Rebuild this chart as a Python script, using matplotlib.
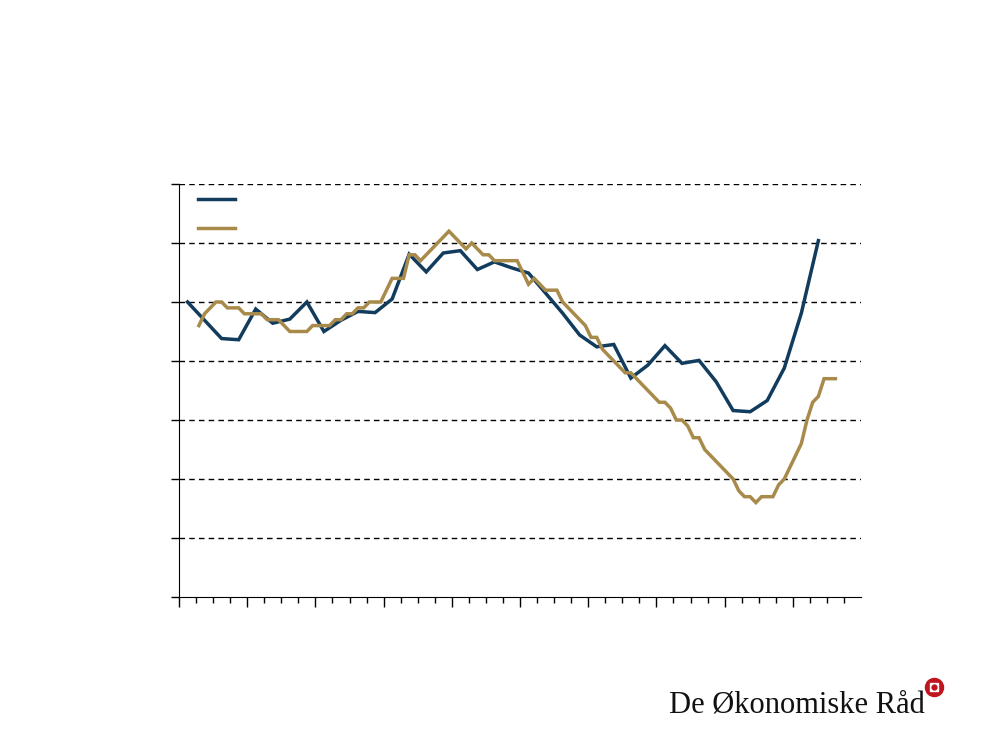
import matplotlib
matplotlib.use("Agg")
import matplotlib.pyplot as plt
import numpy as np
from matplotlib.lines import Line2D

# ---- data ----
# Blue series: quarterly, plotted at middle month of each quarter (month index 1, 4, 7, ...)
blue_values = [5.00, 4.69, 4.38, 4.36, 4.88, 4.64, 4.71, 5.00, 4.50, 4.69,
               4.84, 4.82, 5.05, 5.81, 5.51, 5.83, 5.87, 5.55, 5.68, 5.58,
               5.49, 5.15, 4.81, 4.44, 4.24, 4.28, 3.71, 3.93, 4.26, 3.96,
               4.01, 3.65, 3.16, 3.14, 3.33, 3.88, 4.81, 6.04]
# Gold series: monthly, starting at month index 3
gold_start = 3
gold_values = [4.6, 4.8, 4.9, 5.0, 5.0, 4.9, 4.9, 4.9, 4.8, 4.8,   # m3-12
               4.8, 4.8, 4.7, 4.7, 4.7, 4.6, 4.5, 4.5, 4.5, 4.5,   # m13-22
               4.6, 4.6, 4.6, 4.6, 4.7, 4.7, 4.8, 4.8, 4.9, 4.9,   # m23-32
               5.0, 5.0, 5.0, 5.2, 5.4, 5.4, 5.4, 5.8, 5.8, 5.7,   # m33-42
               5.8, 5.9, 6.0, 6.1, 6.2, 6.1, 6.0, 5.9, 6.0, 5.9,   # m43-52
               5.8, 5.8, 5.7, 5.7, 5.7, 5.7, 5.7, 5.5, 5.3, 5.4,   # m53-62
               5.3, 5.2, 5.2, 5.2, 5.0, 4.9, 4.8, 4.7, 4.6, 4.4,   # m63-72
               4.4, 4.2, 4.1, 4.0, 3.9, 3.8, 3.8, 3.7, 3.6, 3.5,   # m73-82
               3.4, 3.3, 3.3, 3.2, 3.0, 3.0, 2.9, 2.7, 2.7, 2.5,   # m83-92
               2.4, 2.3, 2.2, 2.1, 2.0, 1.8, 1.7, 1.7, 1.6, 1.7,   # m93-102
               1.7, 1.7, 1.9, 2.0, 2.2, 2.4, 2.6, 3.0, 3.3, 3.4,   # m103-112
               3.7, 3.7, 3.7]                                      # m113-115
n_months = 120
y_ticks = [0, 1, 2, 3, 4, 5, 6, 7]

BLUE = "#123C5E"
GOLD = "#A88B4B"

fig = plt.figure(figsize=(10, 7.5), dpi=100)
ax = fig.add_axes([0.179, 0.204, 0.682, 0.5507])

bx = np.arange(len(blue_values)) * 3 + 1 + 0.5
gx = np.arange(len(gold_values)) + gold_start + 0.5
l1, = ax.plot(bx, blue_values, color=BLUE, lw=2.5, solid_joinstyle="miter", zorder=3)
l2, = ax.plot(gx, gold_values, color=GOLD, lw=2.5, solid_joinstyle="miter", zorder=3)

ax.set_xlim(0, n_months)
ax.set_ylim(y_ticks[0], y_ticks[-1])
ax.set_yticks(y_ticks)
ax.set_yticklabels([])
ax.set_xticks(np.arange(0, n_months, 12))
ax.set_xticks(np.arange(0, n_months, 3), minor=True)
ax.set_xticklabels([])
ax.tick_params(axis="y", direction="out", length=6, width=1, color="black")
ax.tick_params(axis="x", which="major", direction="out", length=7, width=1, color="black")
ax.tick_params(axis="x", which="minor", direction="out", length=4, width=1, color="black")

for y in y_ticks[1:]:
    ax.axhline(y, color="black", lw=1.0, ls=(0, (4, 3)), zorder=1)

for s in ["top", "right"]:
    ax.spines[s].set_visible(False)
ax.spines["left"].set_color("black")
ax.spines["bottom"].set_color("black")

leg = ax.legend([l1, l2], [" ", " "], loc="upper left", frameon=False,
                handlelength=2.7, fontsize=10, labelspacing=1.07,
                bbox_to_anchor=(0.013, 1.002), borderaxespad=0.3)

# logo text
fig.text(0.925, 0.05, "De Økonomiske Råd", ha="right", va="baseline",
         fontsize=22, family=["Liberation Serif", "DejaVu Serif"], color="#111111")
# logo mark
fig.add_artist(Line2D([0.934], [1 - 687 / 750], marker="o", markersize=13,
                      color="#C0141E", transform=fig.transFigure))
fig.add_artist(Line2D([0.934], [1 - 687 / 750], marker="s", markersize=6,
                      markerfacecolor="white", markeredgecolor="white",
                      transform=fig.transFigure))
fig.add_artist(Line2D([0.934], [1 - 687 / 750], marker="o", markersize=3.5,
                      color="#C0141E", transform=fig.transFigure))

fig.savefig("out.png", dpi=100)
